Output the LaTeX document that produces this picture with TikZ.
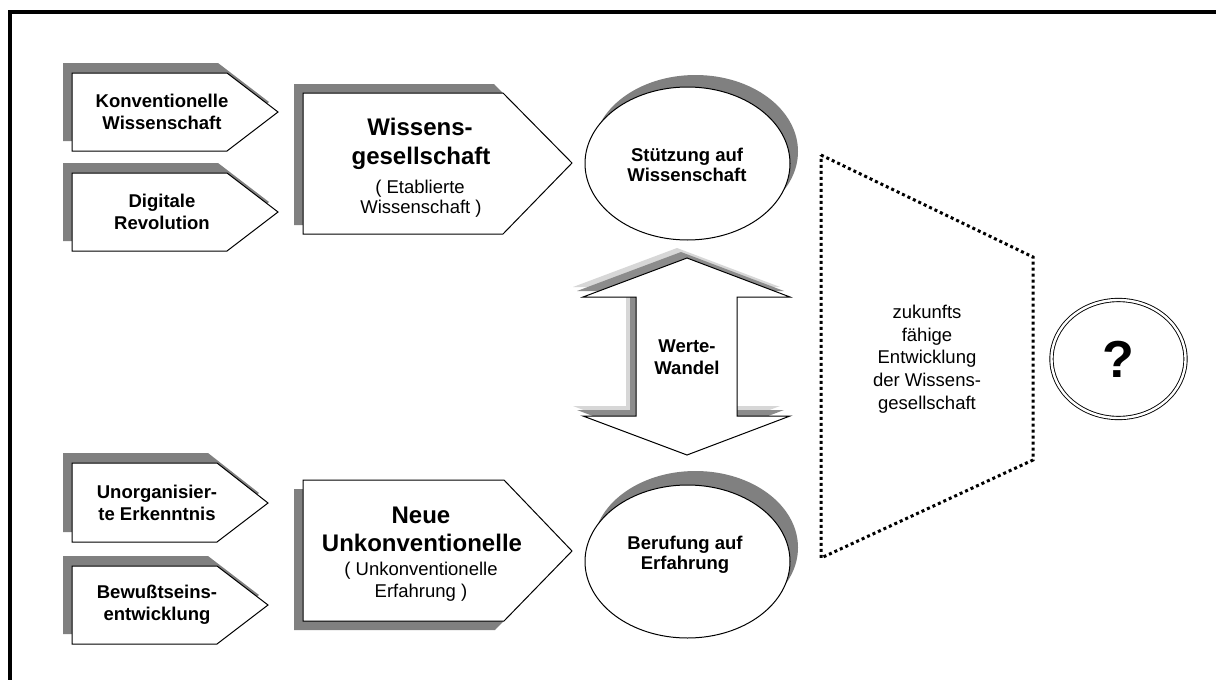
\documentclass[tikz,border=0pt]{standalone}
\usepackage{fontspec}
\setmainfont{Liberation Sans}
\definecolor{shadowgray}{RGB}{128,128,128}
\definecolor{darkshade}{RGB}{140,140,140}
\definecolor{lightshade}{RGB}{215,215,215}
\begin{document}
\begin{tikzpicture}[x=1pt,y=-1pt,
  face/.style={fill=white,draw=black,line width=1pt,line join=miter},
  shadowfill/.style={fill=shadowgray,draw=none},
  smalltext/.style={align=center,inner sep=0pt,font=\fontsize{18.5}{22}\selectfont\bfseries},
  plaintext/.style={align=center,inner sep=0pt,font=\fontsize{18.5}{22.75}\selectfont},
  bigtitle/.style={anchor=base,inner sep=0pt,font=\fontsize{24}{29}\selectfont\bfseries},
  bigsub/.style={anchor=base,inner sep=0pt,font=\fontsize{18.5}{21}\selectfont}]
\useasboundingbox (0,0) rectangle (1216,680);
\fill[white] (0,0) rectangle (1216,680);
% frame (top and left edges visible)
\draw[line width=4pt,line join=miter] (10,682) -- (10,12) -- (1218,12);

% ---- small input arrows (top)
\fill[shadowfill,shift={(-9,-10)}] (72,73) -- (227,73) -- (278,112) -- (227,151) -- (72,151) -- cycle;
\draw[face] (72,73) -- (227,73) -- (278,112) -- (227,151) -- (72,151) -- cycle;
\fill[shadowfill,shift={(-9,-10)}] (72,173) -- (227,173) -- (278,212) -- (227,251) -- (72,251) -- cycle;
\draw[face] (72,173) -- (227,173) -- (278,212) -- (227,251) -- (72,251) -- cycle;
\node[smalltext] (konv) at (162,112) {Konventionelle\\Wissenschaft};
\node[smalltext] (digi) at (162,212) {Digitale\\Revolution};

% ---- small input arrows (bottom)
\fill[shadowfill,shift={(-9,-10)}] (72,463) -- (217,463) -- (268,503) -- (217,542) -- (72,542) -- cycle;
\draw[face] (72,463) -- (217,463) -- (268,503) -- (217,542) -- (72,542) -- cycle;
\fill[shadowfill,shift={(-9,-10)}] (72,566) -- (217,566) -- (268,605) -- (217,644) -- (72,644) -- cycle;
\draw[face] (72,566) -- (217,566) -- (268,605) -- (217,644) -- (72,644) -- cycle;
\node[smalltext] (unorg) at (157,503) {Unorganisier-\\te Erkenntnis};
\node[smalltext] (bewu) at (157,605) {Bewußtseins-\\entwicklung};

% ---- big arrow top
\fill[shadowfill,shift={(-9,-9)}] (303,93) -- (503,93) -- (572,163) -- (503,234) -- (303,234) -- cycle;
\draw[face] (303,93) -- (503,93) -- (572,163) -- (503,234) -- (303,234) -- cycle;
\node[bigtitle] (wg1) at (420,135) {Wissens-};
\node[bigtitle] (wg2) at (421,164) {gesellschaft};
\node[bigsub] (wg3) at (420,193.5) {( Etablierte};
\node[bigsub] (wg4) at (421,213) {Wissenschaft )};

% ---- big arrow bottom
\fill[shadowfill,shift={(-9,9)}] (303,480) -- (504,480) -- (572,551) -- (504,621) -- (303,621) -- cycle;
\draw[face] (303,480) -- (504,480) -- (572,551) -- (504,621) -- (303,621) -- cycle;
\node[bigtitle] (nu1) at (421,523) {Neue};
\node[bigtitle] (nu2) at (422,551) {Unkonventionelle};
\node[bigsub] (nu3) at (421,575) {( Unkonventionelle};
\node[bigsub] (nu4) at (421,597) {Erfahrung )};

% ---- ellipses
\fill[shadowfill,shift={(8,-12)}] (687.5,163.5) ellipse [x radius=102.5pt,y radius=76.5pt];
\draw[face] (687.5,163.5) ellipse [x radius=102.5pt,y radius=76.5pt];
\node[smalltext,font=\fontsize{18.5}{20.5}\selectfont\bfseries] (stue) at (687,165) {Stützung auf\\Wissenschaft};
\fill[shadowfill,shift={(8,-14)}] (687.5,561.5) ellipse [x radius=102.5pt,y radius=76.5pt];
\draw[face] (687.5,561.5) ellipse [x radius=102.5pt,y radius=76.5pt];
\node[smalltext,font=\fontsize{18.5}{20.5}\selectfont\bfseries] (beru) at (685,555) {Berufung auf\\Erfahrung};

% ---- double arrow (Werte-Wandel)
\fill[lightshade,shift={(-10,-10)}] (687,258) -- (790,297) -- (737,297) -- (737,416) -- (790,416) -- (687,455) -- (583,416) -- (636,416) -- (636,297) -- (583,297) -- cycle;
\fill[darkshade,shift={(-6,-6)}] (687,258) -- (790,297) -- (737,297) -- (737,416) -- (790,416) -- (687,455) -- (583,416) -- (636,416) -- (636,297) -- (583,297) -- cycle;
\draw[face] (687,258) -- (790,297) -- (737,297) -- (737,416) -- (790,416) -- (687,455) -- (583,416) -- (636,416) -- (636,297) -- (583,297) -- cycle;
\node[smalltext] (werte) at (687,357) {Werte-\\Wandel};

% ---- dotted trapezoid
\draw[line width=3pt,dash pattern=on 3pt off 3pt] (821,155) -- (1033,257) -- (1033,460) -- (821,558) -- cycle;
\node[plaintext] (zuk) at (927,359) {zukunfts\\fähige\\Entwicklung\\der Wissens-\\gesellschaft};

% ---- question ellipse
\draw[line width=0.9pt,double,double distance=2.4pt] (1118.5,359) ellipse [x radius=67pt,y radius=59pt];
\node[inner sep=0pt,font=\fontsize{52}{60}\selectfont\bfseries] (q) at (1118,359) {?};
\end{tikzpicture}
\end{document}
